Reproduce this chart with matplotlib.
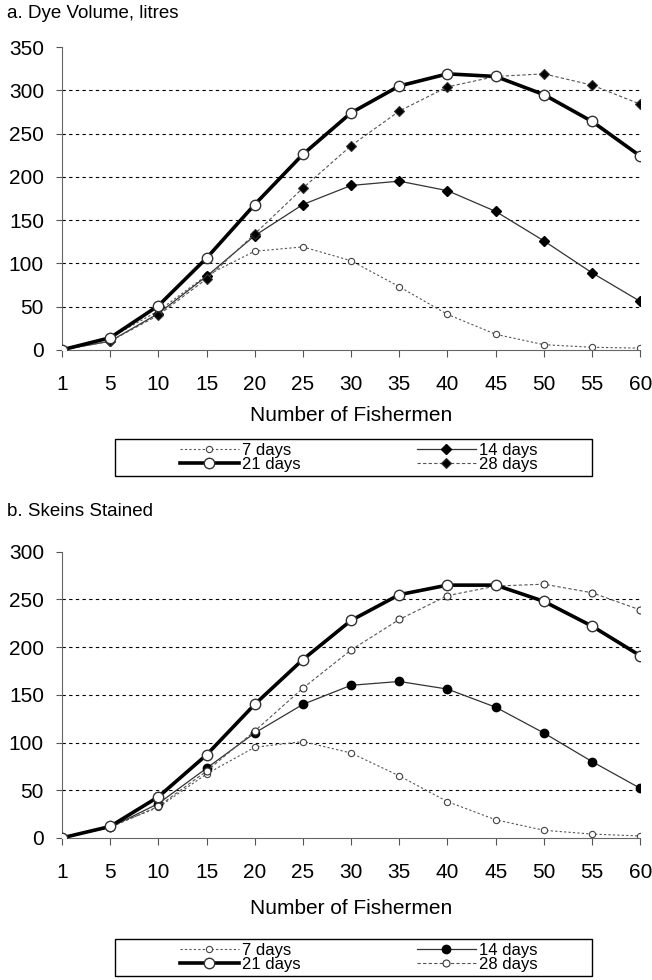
import matplotlib.pyplot as plt
from matplotlib.patches import Rectangle

plt.rcParams['font.family'] = ['Liberation Sans', 'DejaVu Sans']

# Number of fishermen (categories, evenly spaced)
fishermen = ['1', '5', '10', '15', '20', '25', '30', '35', '40', '45', '50', '55', '60']

# a. Dye volume, litres
dye_7 = [0, 14, 45, 86, 114, 119, 103, 73, 41, 18, 6, 3, 2]
dye_14 = [0, 10, 42, 85, 132, 168, 190, 195, 184, 160, 126, 89, 56]
dye_21 = [0, 14, 51, 106, 168, 226, 274, 305, 319, 316, 295, 264, 224]
dye_28 = [0, 10, 40, 82, 134, 187, 236, 276, 304, 316, 319, 306, 284]

# b. Skeins stained
sk_7 = [0, 12, 32, 67, 95, 101, 89, 65, 38, 19, 8, 4, 2]
sk_14 = [0, 11, 36, 73, 110, 140, 160, 164, 156, 137, 110, 80, 52]
sk_21 = [0, 12, 43, 87, 140, 187, 228, 255, 265, 265, 248, 222, 191]
sk_28 = [0, 11, 33, 70, 112, 157, 197, 229, 254, 264, 266, 257, 239]

labels = ['7 days', '14 days', '21 days', '28 days']

fig = plt.figure(figsize=(6.52, 9.8), dpi=100)
ax1 = fig.add_axes([0.095, 0.643, 0.887, 0.309])
ax2 = fig.add_axes([0.095, 0.145, 0.887, 0.292])

x = list(range(len(fishermen)))


def draw(ax, s7, s14, s21, s28, m14, ms14, m28, f28, ms28, ymax, lpad, leg_y, box_y):
    h7, = ax.plot(x, s7, ls=(0, (2, 2)), lw=0.8, color='#555555', marker='o',
                  ms=4.5, mfc='white', mec='#444444', mew=0.8)
    h14, = ax.plot(x, s14, ls='-', lw=0.9, color='#333333', marker=m14,
                   ms=ms14, mfc='black', mec='black')
    h21, = ax.plot(x, s21, ls='-', lw=2.6, color='black', marker='o',
                   ms=7.5, mfc='white', mec='#333333', mew=1.0, zorder=4)
    h28, = ax.plot(x, s28, ls=(0, (3, 2)), lw=0.8, color='#555555', marker=m28,
                   ms=ms28, mfc=f28, mec='#333333', mew=0.8)
    ax.set_xlim(0, len(fishermen) - 1)
    ax.set_ylim(0, ymax)
    ticks = list(range(0, ymax + 1, 50))
    ax.set_yticks(ticks)
    ax.hlines(ticks[1:-1], 0, len(fishermen) - 1, colors='black',
              linestyles=(0, (3, 3)), lw=0.8, zorder=0)
    ax.set_xticks(x)
    ax.set_xticklabels(fishermen)
    ax.tick_params(axis='both', labelsize=15, width=0.8, color='#555555')
    ax.tick_params(axis='y', length=4, pad=9)
    ax.tick_params(axis='x', length=5, direction='out', pad=13)
    for s in ['top', 'right']:
        ax.spines[s].set_visible(False)
    ax.spines['left'].set_color('#666666')
    ax.spines['bottom'].set_color('#666666')
    ax.set_xlabel('Number of Fishermen', fontsize=15, labelpad=lpad)
    ax.legend([h7, h21, h14, h28], [labels[0], labels[2], labels[1], labels[3]],
              ncol=2, loc='center left', bbox_to_anchor=(0.2638, leg_y),
              bbox_transform=fig.transFigure, frameon=False,
              prop={'size': 12}, handlelength=3.5, columnspacing=7.0,
              labelspacing=-0.05, borderpad=0, handletextpad=0.2)
    fig.patches.append(Rectangle((0.1764, box_y), 0.7316, 0.0378,
                                 transform=fig.transFigure, fill=False,
                                 edgecolor='black', lw=1.0))


draw(ax1, dye_7, dye_14, dye_21, dye_28, 'D', 5.5, 'D', 'black', 5.5, 350, 9, 0.5332, 0.5143)
draw(ax2, sk_7, sk_14, sk_21, sk_28, 'o', 6, 'o', 'white', 5, 300, 12, 0.023, 0.0041)

fig.text(0.011, 0.995, 'a. Dye Volume, litres', fontsize=13.5, va='top')
fig.text(0.011, 0.487, 'b. Skeins Stained', fontsize=13.5, va='top')

fig.savefig('out.png', dpi=100)
